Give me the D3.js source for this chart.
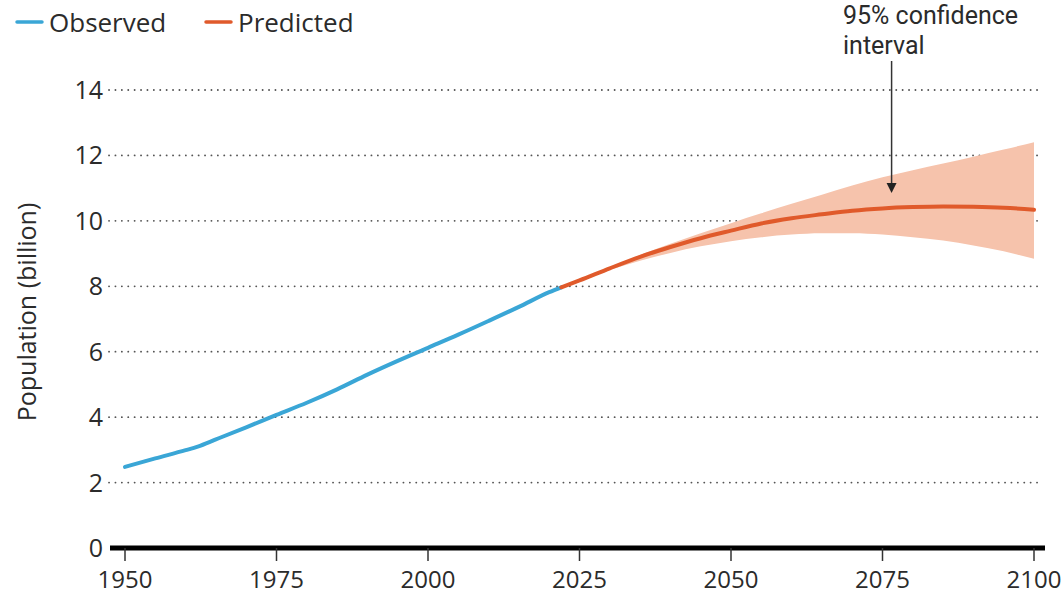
<!DOCTYPE html>
<html>
<head>
<meta charset="utf-8">
<script src="https://cdn.jsdelivr.net/npm/d3@7"></script>
<style>
  html, body { margin: 0; padding: 0; background: #fff; }
  svg { display: block; font-family: "Open Sans", sans-serif; }
</style>
</head>
<body>
<svg id="chart" width="1061" height="597"></svg>
<script>
// World population, billions
const observedYears  = [1950, 1955, 1960, 1962, 1965, 1970, 1975, 1980, 1985, 1990, 1995, 2000, 2005, 2010, 2015, 2020, 2022];
const observedValues = [2.48, 2.74, 2.99, 3.10, 3.32, 3.69, 4.07, 4.44, 4.85, 5.30, 5.72, 6.12, 6.52, 6.94, 7.37, 7.82, 7.97];

const predictedYears  = [2022, 2025, 2030, 2035, 2040, 2045, 2050, 2055, 2060, 2065, 2070, 2075, 2080, 2085, 2090, 2095, 2100];
const predictedValues = [7.97, 8.18, 8.55, 8.90, 9.20, 9.47, 9.70, 9.92, 10.08, 10.20, 10.31, 10.38, 10.42, 10.44, 10.43, 10.40, 10.34];
const lowerValues     = [7.97, 8.17, 8.50, 8.78, 9.02, 9.22, 9.38, 9.50, 9.58, 9.62, 9.62, 9.58, 9.50, 9.40, 9.25, 9.07, 8.84];
const upperValues     = [7.97, 8.20, 8.58, 8.96, 9.30, 9.62, 9.93, 10.23, 10.52, 10.80, 11.08, 11.33, 11.55, 11.75, 11.96, 12.18, 12.40];

const xTicks = [1950, 1975, 2000, 2025, 2050, 2075, 2100];
const yTicks = [0, 2, 4, 6, 8, 10, 12, 14];

const colors = { observed: "#3aa6d6", predicted: "#e05a2b", band: "#f6c3ac", text: "#2b2b2b", grid: "#555" };

const svg = d3.select("#chart");
const x = d3.scaleLinear().domain([1950, 2100]).range([125, 1034]);
const y = d3.scaleLinear().domain([0, 14]).range([548, 90]);

// Dotted horizontal gridlines
svg.append("g")
  .selectAll("line")
  .data(yTicks.filter(d => d > 0))
  .join("line")
  .attr("x1", 109).attr("x2", 1041)
  .attr("y1", d => y(d)).attr("y2", d => y(d))
  .attr("stroke", colors.grid)
  .attr("stroke-width", 1.8)
  .attr("stroke-linecap", "round")
  .attr("stroke-dasharray", "0.1,6.3");

// Y tick labels
svg.append("g")
  .selectAll("text")
  .data(yTicks)
  .join("text")
  .attr("x", 103)
  .attr("y", d => y(d))
  .attr("dy", "0.36em")
  .attr("text-anchor", "end")
  .attr("font-size", 25)
  .attr("fill", colors.text)
  .text(d => d);

// Y axis title
svg.append("text")
  .attr("transform", `translate(36,${312}) rotate(-90)`)
  .attr("text-anchor", "middle")
  .attr("font-size", 25)
  .attr("fill", colors.text)
  .text("Population (billion)");

// Confidence band
const band = predictedYears.map((yr, i) => ({ yr, lo: lowerValues[i], hi: upperValues[i] }));
svg.append("path")
  .datum(band)
  .attr("fill", colors.band)
  .attr("d", d3.area()
    .x(d => x(d.yr))
    .y0(d => y(d.lo))
    .y1(d => y(d.hi))
    .curve(d3.curveMonotoneX));

// Observed and predicted lines
const obs = observedYears.map((yr, i) => ({ yr, v: observedValues[i] }));
const pred = predictedYears.map((yr, i) => ({ yr, v: predictedValues[i] }));
const line = d3.line().x(d => x(d.yr)).y(d => y(d.v)).curve(d3.curveMonotoneX);

svg.append("path")
  .datum(obs)
  .attr("fill", "none")
  .attr("stroke", colors.observed)
  .attr("stroke-width", 4)
  .attr("stroke-linecap", "round")
  .attr("d", line);

svg.append("path")
  .datum(pred)
  .attr("fill", "none")
  .attr("stroke", colors.predicted)
  .attr("stroke-width", 4)
  .attr("stroke-linecap", "round")
  .attr("d", line);

// X axis baseline and ticks
svg.append("line")
  .attr("x1", 110).attr("x2", 1045)
  .attr("y1", y(0)).attr("y2", y(0))
  .attr("stroke", "#000")
  .attr("stroke-width", 5);

const xg = svg.append("g");
xg.selectAll("line")
  .data(xTicks)
  .join("line")
  .attr("x1", d => x(d)).attr("x2", d => x(d))
  .attr("y1", y(0)).attr("y2", y(0) + 13)
  .attr("stroke", "#333")
  .attr("stroke-width", 1.5);
xg.selectAll("text")
  .data(xTicks)
  .join("text")
  .attr("x", d => x(d))
  .attr("y", 588)
  .attr("text-anchor", "middle")
  .attr("font-size", 24)
  .attr("fill", colors.text)
  .text(d => d);

// Legend
const legend = [
  { label: "Observed", color: colors.observed, x: 17 },
  { label: "Predicted", color: colors.predicted, x: 206 }
];
const lg = svg.append("g").selectAll("g").data(legend).join("g")
  .attr("transform", d => `translate(${d.x},22)`);
lg.append("line")
  .attr("x1", 0).attr("x2", 25)
  .attr("stroke", d => d.color)
  .attr("stroke-width", 3.5)
  .attr("stroke-linecap", "round");
lg.append("text")
  .attr("x", 32)
  .attr("y", 10)
  .attr("font-size", 26)
  .attr("fill", colors.text)
  .text(d => d.label);

// Annotation for the confidence interval
const ann = svg.append("g")
  .attr("font-family", "Roboto, sans-serif")
  .attr("font-size", 25)
  .attr("fill", colors.text);
ann.append("text").attr("x", 843).attr("y", 24).text("95% confidence");
ann.append("text").attr("x", 843).attr("y", 54).text("interval");

const arrowX = x(2076.5);
ann.append("line")
  .attr("x1", arrowX).attr("x2", arrowX)
  .attr("y1", 61).attr("y2", 184)
  .attr("stroke", "#333")
  .attr("stroke-width", 1.5);
ann.append("path")
  .attr("d", `M${arrowX - 5},${183} L${arrowX + 5},${183} L${arrowX},${193} Z`)
  .attr("fill", "#222");
</script>
</body>
</html>
